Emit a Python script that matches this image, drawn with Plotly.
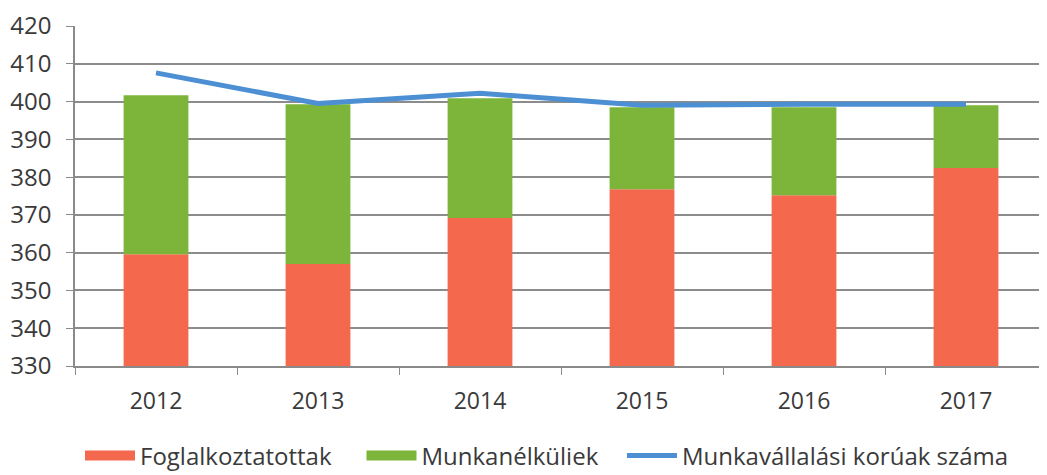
import plotly.graph_objects as go

years = ["2012", "2013", "2014", "2015", "2016", "2017"]
employed = [359.6, 357.0, 369.2, 376.8, 375.2, 382.4]
unemployed_top = [401.7, 399.3, 400.9, 398.5, 398.5, 399.0]
working_age = [407.6, 399.5, 402.2, 399.0, 399.3, 399.3]
y_ticks = [330, 340, 350, 360, 370, 380, 390, 400, 410, 420]
series_names = ["Foglalkoztatottak", "Munkanélküliek", "Munkavállalási korúak száma"]

RED = "#F4694D"
GREEN = "#7CB53A"
BLUE = "#4C8FD3"

base = 330
employed_h = [e - base for e in employed]
unemployed_h = [t - e for t, e in zip(unemployed_top, employed)]

FONT = "Open Sans"
TXT = "#3a3a3a"
NB = "\u00a0"

fig = go.Figure()
fig.add_trace(go.Bar(
    x=years, y=employed_h, base=base, name=series_names[0],
    marker=dict(color=RED, line=dict(width=0)), width=0.4, showlegend=False,
))
fig.add_trace(go.Bar(
    x=years, y=unemployed_h, base=employed, name=series_names[1],
    marker=dict(color=GREEN, line=dict(width=0)), width=0.4, showlegend=False,
))
fig.add_trace(go.Scatter(
    x=years, y=working_age, name=series_names[2],
    mode="lines", line=dict(color=BLUE, width=5), showlegend=False,
))
# legend entries (rectangular swatches like the original)
legend_specs = [
    (series_names[0] + NB * 4, RED, 13),
    (series_names[1] + NB * 3, GREEN, 13),
    (series_names[2], BLUE, 5),
]
for nm, col, w in legend_specs:
    fig.add_trace(go.Scatter(
        x=[None], y=[None], name=nm, mode="lines",
        line=dict(color=col, width=w), showlegend=True,
    ))

# The page body has an 8px default margin, so the figure is sized to fit the window.
fig.update_layout(
    barmode="overlay",
    width=1039, height=467,
    margin=dict(l=67, r=0, t=18, b=109),
    paper_bgcolor="white", plot_bgcolor="white",
    font=dict(family=FONT, size=20, color=TXT),
    showlegend=True,
    legend=dict(
        orientation="h", xref="container", yref="container",
        x=72 / 1039, xanchor="left", y=19 / 467, yanchor="middle",
        font=dict(family=FONT, size=24, color=TXT),
        traceorder="normal", itemwidth=50,
    ),
)
fig.update_xaxes(
    type="category", range=[-0.5, 5.5], automargin=False,
    showgrid=False, showline=True, linecolor="#8a8a8a", linewidth=1.5,
    ticks="outside", tickson="boundaries", ticklen=7, tickcolor="#8a8a8a",
    tickfont=dict(family=FONT, size=23, color=TXT),
    ticklabelstandoff=14,
)
fig.update_yaxes(
    range=[330, 420], tickvals=y_ticks, automargin=False,
    showgrid=True, gridcolor="#8c8c8c", gridwidth=1.5,
    showline=True, linecolor="#8a8a8a", linewidth=1.5,
    ticks="outside", ticklen=7, tickcolor="#8a8a8a",
    tickfont=dict(family=FONT, size=24, color=TXT),
    ticklabelstandoff=10, zeroline=False,
)

fig.write_html("out.html")
